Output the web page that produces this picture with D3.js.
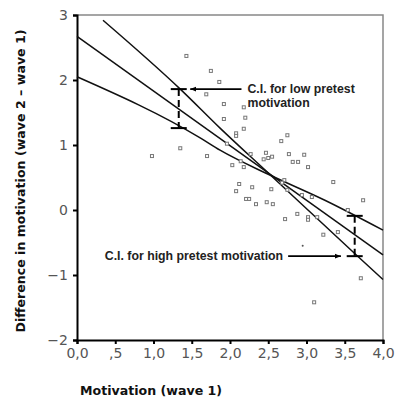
<!DOCTYPE html>
<html>
<head>
<meta charset="utf-8">
<script src="https://cdn.jsdelivr.net/npm/d3@7"></script>
<style>
  body { margin: 0; background: #fff; }
  svg { display: block; }
</style>
</head>
<body>
<div id="chart"></div>
<script>
// scatter points (motivation wave 1, difference wave2 - wave1)
var motivation1 = [1.43, 1.75, 1.86, 1.69, 1.92, 2.18, 2.20, 1.92, 2.18, 2.08, 2.08, 2.75, 2.67, 1.96,
  0.98, 1.35, 1.70, 2.03, 2.14, 2.27, 2.47, 2.50, 2.55, 2.77, 2.97, 2.82, 2.89, 3.02, 3.35, 3.74,
  2.71, 2.12, 2.08, 2.29, 2.54, 2.21, 2.25, 2.34, 2.48, 2.56, 2.68, 3.07, 2.75, 2.94, 2.72, 2.88,
  3.02, 3.02, 3.14, 3.22, 3.41, 3.54, 3.71, 3.10, 2.18, 2.44];
var difference = [2.37, 2.14, 1.97, 1.78, 1.63, 1.58, 1.42, 1.40, 1.25, 1.18, 1.14, 1.15, 1.06, 1.02,
  0.83, 0.95, 0.83, 0.69, 0.75, 0.86, 0.88, 0.80, 0.82, 0.86, 0.85, 0.74, 0.74, 0.66, 0.43, 0.15,
  0.46, 0.40, 0.29, 0.35, 0.32, 0.17, 0.17, 0.09, 0.12, 0.09, 0.42, 0.20, 0.31, 0.23, -0.14, -0.06,
  -0.11, -0.15, -0.11, -0.38, -0.34, 0.00, -1.05, -1.42, 0.66, 0.78];
// the one tiny dot
var dotX = [2.95], dotY = [-0.55];

// regression line and the two confidence lines
var fitX = [0, 4], fitY = [2.67, -0.69];
var ciSteepX = [0.34, 1.35, 1.87, 2.5, 3.63, 4.0];
var ciSteepY = [2.92, 1.86, 1.26, 0.57, -0.67, -1.07];
var ciFlatX = [0, 1.61, 1.87, 2.5, 3.24, 4.0];
var ciFlatY = [2.05, 1.11, 0.92, 0.55, 0.15, -0.31];

// the two marked intervals
var ciMarks = [
  {x: 1.33, lo: 1.26, hi: 1.86},
  {x: 3.63, lo: -0.71, hi: -0.09}
];

var xTicks = [0, 0.5, 1, 1.5, 2, 2.5, 3, 3.5, 4];
var xTickLabels = ["0,0", ",5", "1,0", "1,5", "2,0", "2,5", "3,0", "3,5", "4,0"];
var yTicks = [-2, -1, 0, 1, 2, 3];
var yTickLabels = ["\u22122", "\u22121", "0", "1", "2", "3"];

var W = 396, H = 398;
var margin = {top: 15, right: 13, bottom: 58, left: 77};

var svg = d3.select("#chart").append("svg")
  .attr("width", W)
  .attr("height", H);

var x = d3.scaleLinear().domain([0, 4]).range([margin.left, W - margin.right]);
var y = d3.scaleLinear().domain([-2, 3]).range([H - margin.bottom, margin.top]);

// frame top/right in gray
svg.append("path")
  .attr("d", "M" + x(0) + "," + y(3) + "H" + x(4) + "V" + y(-2))
  .attr("fill", "none")
  .attr("stroke", "#888")
  .attr("stroke-width", 1.5);

// axes
var xAxis = svg.append("g")
  .attr("transform", "translate(0," + y(-2) + ")")
  .call(d3.axisBottom(x).tickValues(xTicks).tickSize(4).tickPadding(4)
    .tickFormat(function(d, i) { return xTickLabels[i]; }));
var yAxis = svg.append("g")
  .attr("transform", "translate(" + x(0) + ",0)")
  .call(d3.axisLeft(y).tickValues(yTicks).tickSize(4).tickPadding(5)
    .tickFormat(function(d, i) { return yTickLabels[i]; }));

[xAxis, yAxis].forEach(function(a) {
  a.select(".domain").attr("stroke", "#000").attr("stroke-width", 2);
  a.selectAll(".tick line").attr("stroke", "#000").attr("stroke-width", 2);
  a.selectAll(".tick text")
    .attr("font-family", "DejaVu Sans")
    .attr("font-size", 14)
    .attr("fill", "#555");
});

// lines
var line = d3.line()
  .x(function(d) { return x(d[0]); })
  .y(function(d) { return y(d[1]); })
  .curve(d3.curveMonotoneX);

function pairs(xs, ys) { return xs.map(function(v, i) { return [v, ys[i]]; }); }

[pairs(fitX, fitY), pairs(ciSteepX, ciSteepY), pairs(ciFlatX, ciFlatY)].forEach(function(p) {
  svg.append("path")
    .datum(p)
    .attr("d", line)
    .attr("fill", "none")
    .attr("stroke", "#111")
    .attr("stroke-width", 1.5);
});

// scatter
svg.selectAll("rect.pt")
  .data(pairs(motivation1, difference))
  .enter()
  .append("rect")
    .attr("class", "pt")
    .attr("x", function(d) { return x(d[0]) - 1.5; })
    .attr("y", function(d) { return y(d[1]) - 1.5; })
    .attr("width", 3)
    .attr("height", 3)
    .attr("fill", "#fff")
    .attr("stroke", "#777")
    .attr("stroke-width", 1);

svg.selectAll("circle.dot")
  .data(pairs(dotX, dotY))
  .enter()
  .append("circle")
    .attr("cx", function(d) { return x(d[0]); })
    .attr("cy", function(d) { return y(d[1]); })
    .attr("r", 1)
    .attr("fill", "#555");

// CI marks: dashed vertical with caps
ciMarks.forEach(function(c) {
  svg.append("line")
    .attr("x1", x(c.x)).attr("x2", x(c.x))
    .attr("y1", y(c.hi)).attr("y2", y(c.lo))
    .attr("stroke", "#000").attr("stroke-width", 2)
    .attr("stroke-dasharray", "7,4");
  [c.hi, c.lo].forEach(function(v) {
    svg.append("line")
      .attr("x1", x(c.x) - 8).attr("x2", x(c.x) + 8)
      .attr("y1", y(v)).attr("y2", y(v))
      .attr("stroke", "#000").attr("stroke-width", 2);
  });
});

// arrows
svg.append("defs").append("marker")
  .attr("id", "arrow")
  .attr("viewBox", "0 0 10 10")
  .attr("refX", 10).attr("refY", 5)
  .attr("markerWidth", 6).attr("markerHeight", 6)
  .attr("markerUnits", "userSpaceOnUse")
  .attr("orient", "auto")
  .append("path")
    .attr("d", "M0,1L10,5L0,9Z")
    .attr("fill", "#000");

var lowArrow = [x(2.15), x(1.48)];
svg.append("line")
  .attr("x1", lowArrow[0]).attr("x2", lowArrow[1])
  .attr("y1", y(ciMarks[0].hi)).attr("y2", y(ciMarks[0].hi))
  .attr("stroke", "#000").attr("stroke-width", 1.6)
  .attr("marker-end", "url(#arrow)");

var highArrow = [x(2.76), x(3.45)];
svg.append("line")
  .attr("x1", highArrow[0]).attr("x2", highArrow[1])
  .attr("y1", y(ciMarks[1].lo)).attr("y2", y(ciMarks[1].lo))
  .attr("stroke", "#000").attr("stroke-width", 1.6)
  .attr("marker-end", "url(#arrow)");

var note = svg.append("g")
  .attr("font-family", "Liberation Sans, Arial, sans-serif")
  .attr("font-size", 12.3)
  .attr("font-weight", "bold")
  .attr("fill", "#222");

note.append("text")
  .attr("x", lowArrow[0] + 6)
  .attr("y", y(ciMarks[0].hi) + 4)
  .text("C.I. for low pretest");
note.append("text")
  .attr("x", lowArrow[0] + 6)
  .attr("y", y(ciMarks[0].hi) + 18)
  .text("motivation");
note.append("text")
  .attr("x", highArrow[0] - 5)
  .attr("y", y(ciMarks[1].lo) + 4)
  .attr("text-anchor", "end")
  .text("C.I. for high pretest motivation");

// axis titles
svg.append("text")
  .attr("x", 80)
  .attr("y", 395)
  .attr("font-family", "DejaVu Sans")
  .attr("font-size", 12.6)
  .attr("font-weight", "bold")
  .attr("fill", "#111")
  .text("Motivation (wave 1)");

svg.append("text")
  .attr("transform", "translate(25," + 181 + ") rotate(-90)")
  .attr("text-anchor", "middle")
  .attr("font-family", "DejaVu Sans")
  .attr("font-size", 12.6)
  .attr("font-weight", "bold")
  .attr("fill", "#111")
  .text("Difference in motivation (wave 2 \u2013 wave 1)");
</script>
</body>
</html>
